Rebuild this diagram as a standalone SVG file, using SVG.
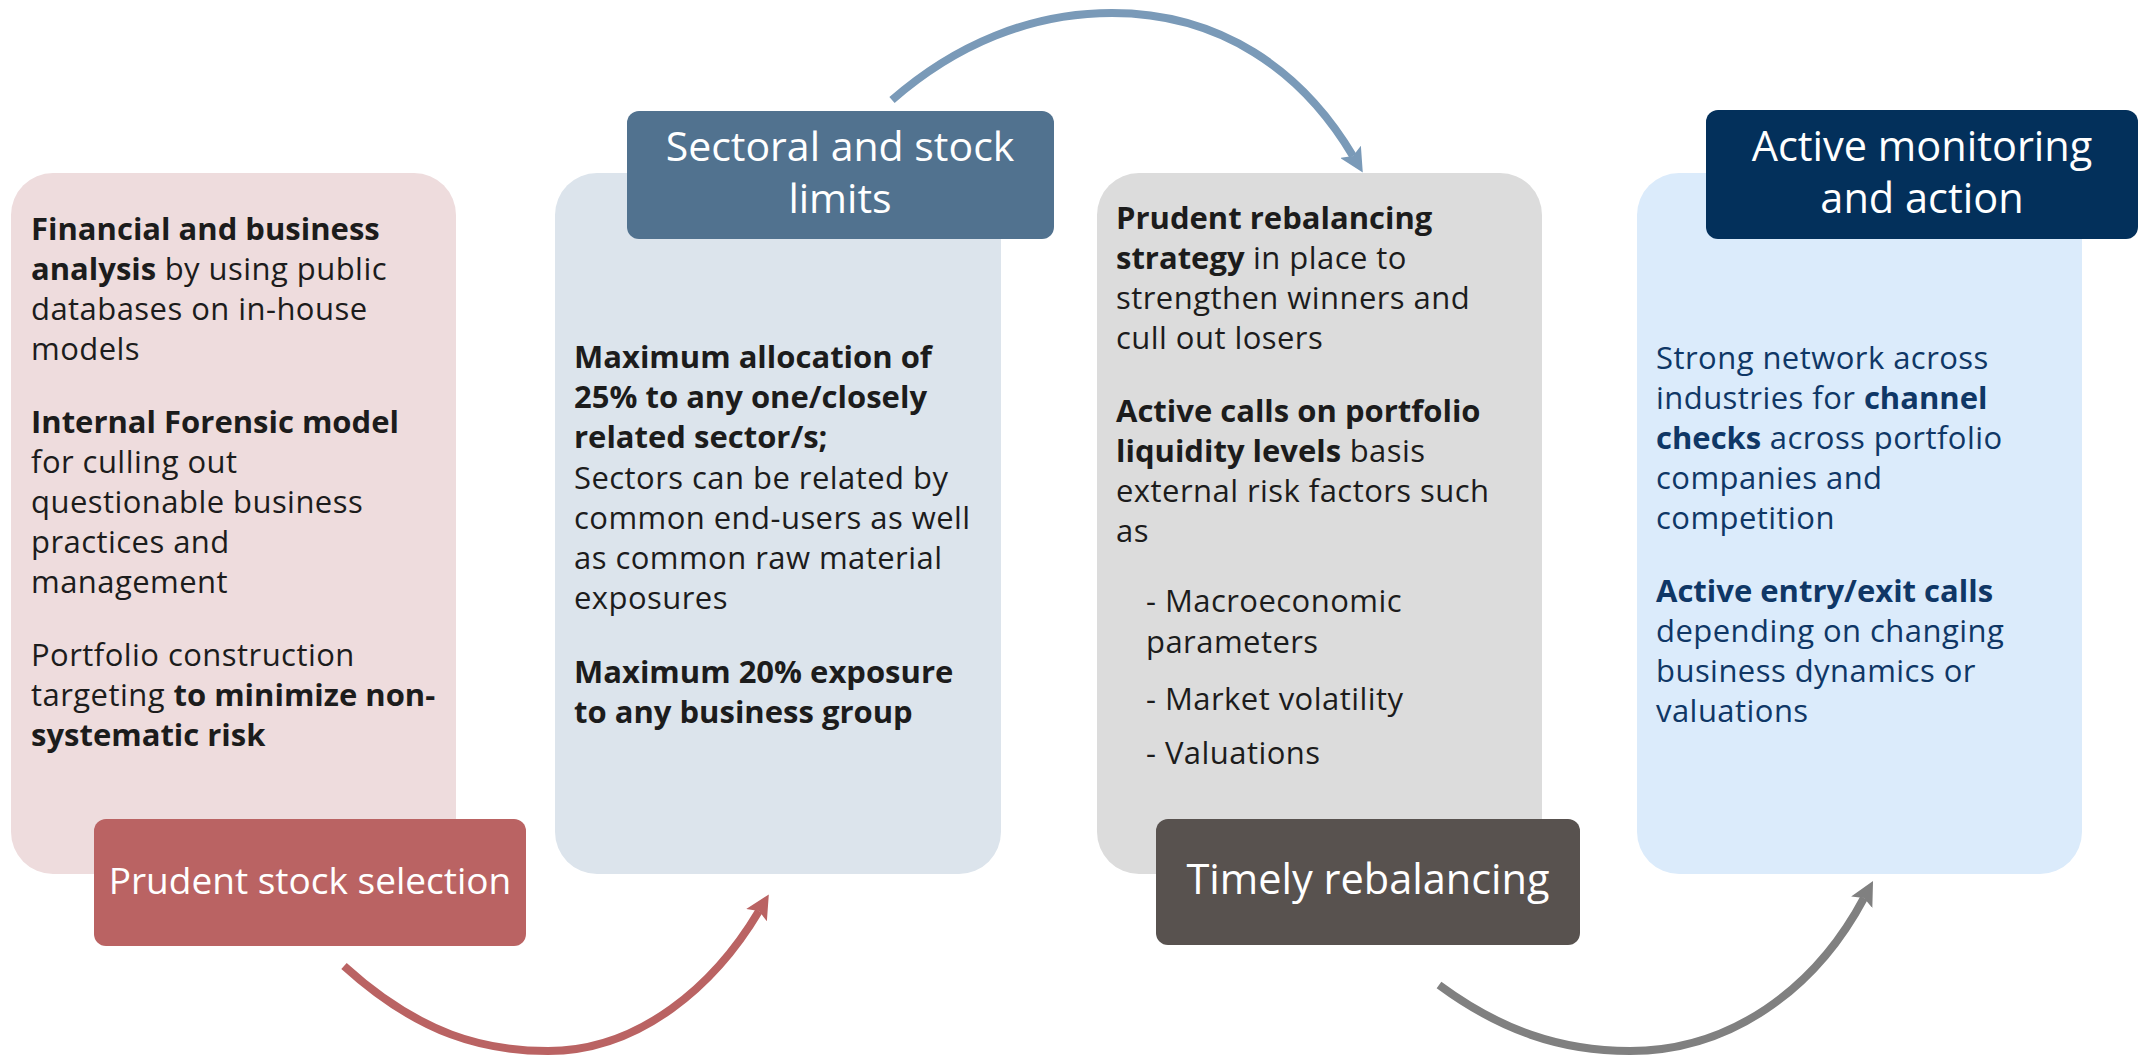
<svg xmlns="http://www.w3.org/2000/svg" width="2147" height="1060" viewBox="0 0 2147 1060">
<defs>
<style>
.card{stroke:none}
.body{font-family:"Open Sans","Liberation Sans",sans-serif;font-size:31px;letter-spacing:0.45px;fill:#1c1c1c}
.navy{fill:#0f3766}
.b{font-weight:bold;letter-spacing:0px}
.hdr{font-family:"Open Sans","Liberation Sans",sans-serif;fill:#ffffff;text-anchor:middle}
.conn{fill:none;stroke-width:8;stroke-linecap:butt}
</style>
<marker id="ahRed" viewBox="0 0 10 10" refX="2" refY="5" markerWidth="3" markerHeight="3" orient="auto" markerUnits="strokeWidth"><path d="M0,0 L10,5 L0,10 L2,5 z" fill="#ba6363"/></marker>
<marker id="ahBlue" viewBox="0 0 10 10" refX="2" refY="5" markerWidth="3" markerHeight="3" orient="auto" markerUnits="strokeWidth"><path d="M0,0 L10,5 L0,10 L2,5 z" fill="#7a9ab8"/></marker>
<marker id="ahGray" viewBox="0 0 10 10" refX="2" refY="5" markerWidth="3" markerHeight="3" orient="auto" markerUnits="strokeWidth"><path d="M0,0 L10,5 L0,10 L2,5 z" fill="#808080"/></marker>
</defs>
<rect width="2147" height="1060" fill="#ffffff"/>

<g id="node-stock-selection">
<rect class="card" x="11" y="173" width="445" height="701" rx="42" fill="#eedcdd"/>
<text class="body">
<tspan x="31" y="240" class="b">Financial and business</tspan>
<tspan x="31" y="280"><tspan class="b">analysis</tspan> by using public</tspan>
<tspan x="31" y="320">databases on in-house</tspan>
<tspan x="31" y="360">models</tspan>
<tspan x="31" y="433" class="b">Internal Forensic model</tspan>
<tspan x="31" y="473">for culling out</tspan>
<tspan x="31" y="513">questionable business</tspan>
<tspan x="31" y="553">practices and</tspan>
<tspan x="31" y="593">management</tspan>
<tspan x="31" y="666">Portfolio construction</tspan>
<tspan x="31" y="706">targeting <tspan class="b">to minimize non-</tspan></tspan>
<tspan x="31" y="746" class="b">systematic risk</tspan>
</text>
<rect x="94" y="819" width="432" height="127" rx="12" fill="#ba6363"/>
<text class="hdr" x="310" y="894" font-size="37">Prudent stock selection</text>
</g>

<g id="node-sectoral-limits">
<rect class="card" x="555" y="173" width="446" height="701" rx="42" fill="#dce4ec"/>
<text class="body">
<tspan x="574" y="368" class="b">Maximum allocation of</tspan>
<tspan x="574" y="408" class="b">25% to any one/closely</tspan>
<tspan x="574" y="448" class="b">related sector/s;</tspan>
<tspan x="574" y="489">Sectors can be related by</tspan>
<tspan x="574" y="529">common end-users as well</tspan>
<tspan x="574" y="569">as common raw material</tspan>
<tspan x="574" y="609">exposures</tspan>
<tspan x="574" y="683" class="b">Maximum 20% exposure</tspan>
<tspan x="574" y="723" class="b">to any business group</tspan>
</text>
<rect x="627" y="111" width="427" height="128" rx="12" fill="#51728f"/>
<text class="hdr" font-size="41"><tspan x="840" y="161">Sectoral and stock</tspan><tspan x="840" y="213">limits</tspan></text>
</g>

<g id="node-rebalancing">
<rect class="card" x="1097" y="173" width="445" height="701" rx="42" fill="#dcdcdc"/>
<text class="body">
<tspan x="1116" y="229" class="b">Prudent rebalancing</tspan>
<tspan x="1116" y="269"><tspan class="b">strategy</tspan> in place to</tspan>
<tspan x="1116" y="309">strengthen winners and</tspan>
<tspan x="1116" y="349">cull out losers</tspan>
<tspan x="1116" y="422" class="b">Active calls on portfolio</tspan>
<tspan x="1116" y="462"><tspan class="b">liquidity levels</tspan> basis</tspan>
<tspan x="1116" y="502">external risk factors such</tspan>
<tspan x="1116" y="542">as</tspan>
<tspan x="1146" y="612">- Macroeconomic</tspan>
<tspan x="1146" y="653">parameters</tspan>
<tspan x="1146" y="710">- Market volatility</tspan>
<tspan x="1146" y="764">- Valuations</tspan>
</text>
<rect x="1156" y="819" width="424" height="126" rx="12" fill="#58524f"/>
<text class="hdr" x="1368" y="894" font-size="41.5">Timely rebalancing</text>
</g>

<g id="node-monitoring">
<rect class="card" x="1637" y="173" width="445" height="701" rx="42" fill="#dbebfb"/>
<text class="body navy">
<tspan x="1656" y="369">Strong network across</tspan>
<tspan x="1656" y="409">industries for <tspan class="b">channel</tspan></tspan>
<tspan x="1656" y="449"><tspan class="b">checks</tspan> across portfolio</tspan>
<tspan x="1656" y="489">companies and</tspan>
<tspan x="1656" y="529">competition</tspan>
<tspan x="1656" y="602" class="b">Active entry/exit calls</tspan>
<tspan x="1656" y="642">depending on changing</tspan>
<tspan x="1656" y="682">business dynamics or</tspan>
<tspan x="1656" y="722">valuations</tspan>
</text>
<rect x="1706" y="110" width="432" height="129" rx="12" fill="#03305b"/>
<text class="hdr" font-size="41.5"><tspan x="1922" y="161">Active monitoring</tspan><tspan x="1922" y="213">and action</tspan></text>
</g>

<g id="connectors">
<path class="conn" stroke="#ba6363" marker-end="url(#ahRed)" d="M344,966 C420,1035 485,1051 548,1051 C640,1051 715,985 759,911"/>
<path class="conn" stroke="#7a9ab8" marker-end="url(#ahBlue)" d="M892,100 C955,45 1030,13 1112,13 C1220,13 1302,70 1353,156"/>
<path class="conn" stroke="#808080" stroke-width="7.5" marker-end="url(#ahGray)" d="M1439,985 C1500,1030 1560,1051 1630,1051 C1730,1051 1815,990 1864,898"/>
</g>
</svg>
